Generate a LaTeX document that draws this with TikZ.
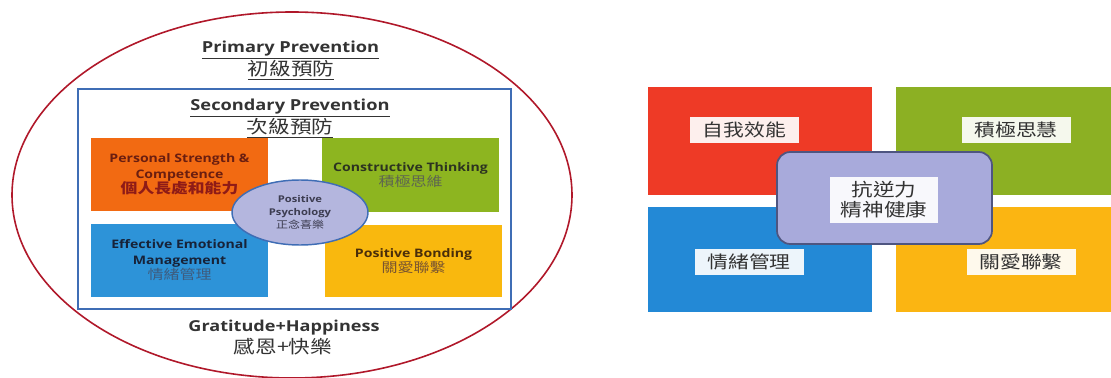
\documentclass[tikz,border=0pt]{standalone}
\usepackage{fontspec}
\setmainfont{Open Sans}[FakeStretch=1.2]
\newfontfamily\cjk{Noto Sans CJK TC}[FakeStretch=1.2]
\usetikzlibrary{shapes.geometric}

\definecolor{orangeL}{RGB}{242,106,18}
\definecolor{greenL}{RGB}{141,181,32}
\definecolor{blueL}{RGB}{45,147,216}
\definecolor{yellowL}{RGB}{249,184,14}
\definecolor{redR}{RGB}{238,58,38}
\definecolor{greenR}{RGB}{140,176,35}
\definecolor{blueR}{RGB}{35,137,214}
\definecolor{yellowR}{RGB}{251,181,18}
\definecolor{lavender}{RGB}{180,182,222}
\definecolor{lavenderR}{RGB}{168,170,219}
\definecolor{rimred}{RGB}{176,24,42}
\definecolor{rimblue}{RGB}{63,109,181}
\definecolor{inkgray}{RGB}{51,51,51}

\tikzset{every picture/.style={line width=0.75pt},
  quad/.style={inner sep=0pt, align=center, font=\bfseries\fontsize{8.8}{11.6}\selectfont},
  tag/.style={fill=white, fill opacity=0.92, text opacity=1, inner sep=0pt,
    minimum width=81.75pt, minimum height=19.5pt, text=inkgray, font=\cjk\fontsize{13}{15}\selectfont},
  heading/.style={inner sep=0.75pt, text=inkgray, font=\bfseries\fontsize{11.4}{13}\selectfont},
  headingzh/.style={inner sep=0.75pt, text=inkgray, font=\cjk\fontsize{13.5}{15}\selectfont}}

\begin{document}
\begin{tikzpicture}[x=0.75pt,y=0.75pt,yscale=-1,xscale=1]
\useasboundingbox (0,0) rectangle (1111,378);

%Shape: Ellipse [id:primary]
\node [draw=rimred, line width=1.2pt, ellipse, inner sep=0pt, minimum width=420pt, minimum height=274.5pt] (primary) at (292,195) {};
%Shape: Rectangle [id:secondary]
\node [draw=rimblue, line width=1.1pt, inner sep=0pt, minimum width=324.75pt, minimum height=165pt] (secondary) at (294.5,199) {};

% Text Node
\node [heading] (primaryen) at (290.5,50) {\underline{Primary Prevention}};
\node [headingzh] (primaryzh) at (291,70) {\underline{初級預防}};
\node [heading] (secondaryen) at (290,108) {\underline{Secondary Prevention}};
\node [headingzh] (secondaryzh) at (290,128) {\underline{次級預防}};

%Shape: Rectangle [id:strength]
\node [quad, fill=orangeL, minimum width=132.75pt, minimum height=54.75pt, text={rgb,255:red,106;green,30;blue,16}] (strength) at (179.5,174.5)
  {Personal Strength \&\\Competence\\{\cjk\fontsize{10.5}{11.6}\selectfont\color[RGB]{142,27,23}個人長處和能力}};
%Shape: Rectangle [id:thinking]
\node [quad, fill=greenL, minimum width=132.75pt, minimum height=55.5pt, text={rgb,255:red,44;green,51;blue,32}] (thinking) at (410.5,175)
  {Constructive Thinking\\{\cjk\mdseries\fontsize{10}{11.6}\selectfont\color[RGB]{94,102,80}積極思維}};
%Shape: Rectangle [id:emotion]
\node [quad, fill=blueL, minimum width=132.75pt, minimum height=54.75pt, text={rgb,255:red,23;green,34;blue,56}] (emotion) at (179.5,260.5)
  {Effective Emotional\\Management\\{\cjk\mdseries\fontsize{10}{11.6}\selectfont\color[RGB]{62,92,126}情緒管理}};
%Shape: Rectangle [id:bonding]
\node [quad, fill=yellowL, minimum width=132.75pt, minimum height=54pt, text={rgb,255:red,74;green,46;blue,10}] (bonding) at (413.5,261)
  {Positive Bonding\\{\cjk\mdseries\fontsize{10}{11.6}\selectfont\color[RGB]{122,85,48}關愛聯繫}};
%Shape: Ellipse [id:psychology]
\node [ellipse, draw=rimblue, line width=1.1pt, fill=lavender, inner sep=0pt, minimum width=102pt, minimum height=48.75pt,
  align=center, text={rgb,255:red,60;green,60;blue,80}, font=\bfseries\fontsize{7}{9.5}\selectfont] (psychology) at (300,212.5)
  {Positive\\Psychology\\{\cjk\mdseries\fontsize{7.5}{9.5}\selectfont 正念喜樂}};

% Text Node
\node [heading, font=\bfseries\fontsize{11.3}{13}\selectfont] (gratitude) at (284,328) {Gratitude+Happiness};
\node [headingzh] (gratitudezh) at (283,347) {感恩+快樂};

%Shape: Rectangle [id:efficacy]
\node [fill=redR, inner sep=0pt, minimum width=168pt, minimum height=81pt] (efficacy) at (760,141) {};
%Shape: Rectangle [id:wisdom]
\node [fill=greenR, inner sep=0pt, minimum width=161.25pt, minimum height=81pt] (wisdom) at (1003.5,141) {};
%Shape: Rectangle [id:mood]
\node [fill=blueR, inner sep=0pt, minimum width=168pt, minimum height=78.75pt] (mood) at (760,259.5) {};
%Shape: Rectangle [id:care]
\node [fill=yellowR, inner sep=0pt, minimum width=161.25pt, minimum height=78.75pt] (care) at (1003.5,259.5) {};
%Shape: Rounded Rect [id:resilience]
\node [draw={rgb,255:red,78;green,85;blue,128}, line width=1.3pt, rounded corners=10pt, fill=lavenderR, inner sep=0pt,
  minimum width=161.25pt, minimum height=69pt] (resilience) at (884.5,198) {};

% Text Node
\node [tag] (efficacytag) at (744.5,130) {自我效能};
\node [tag] (wisdomtag) at (1016,130) {積極思慧};
\node [tag] (moodtag) at (749,261.5) {情緒管理};
\node [tag] (caretag) at (1021,261.5) {關愛聯繫};
\node [tag, minimum width=81pt, minimum height=34.5pt, align=center, font=\cjk\fontsize{13.5}{15}\selectfont] (resiliencetag) at (884,200) {抗逆力\\精神健康};

\end{tikzpicture}
\end{document}
